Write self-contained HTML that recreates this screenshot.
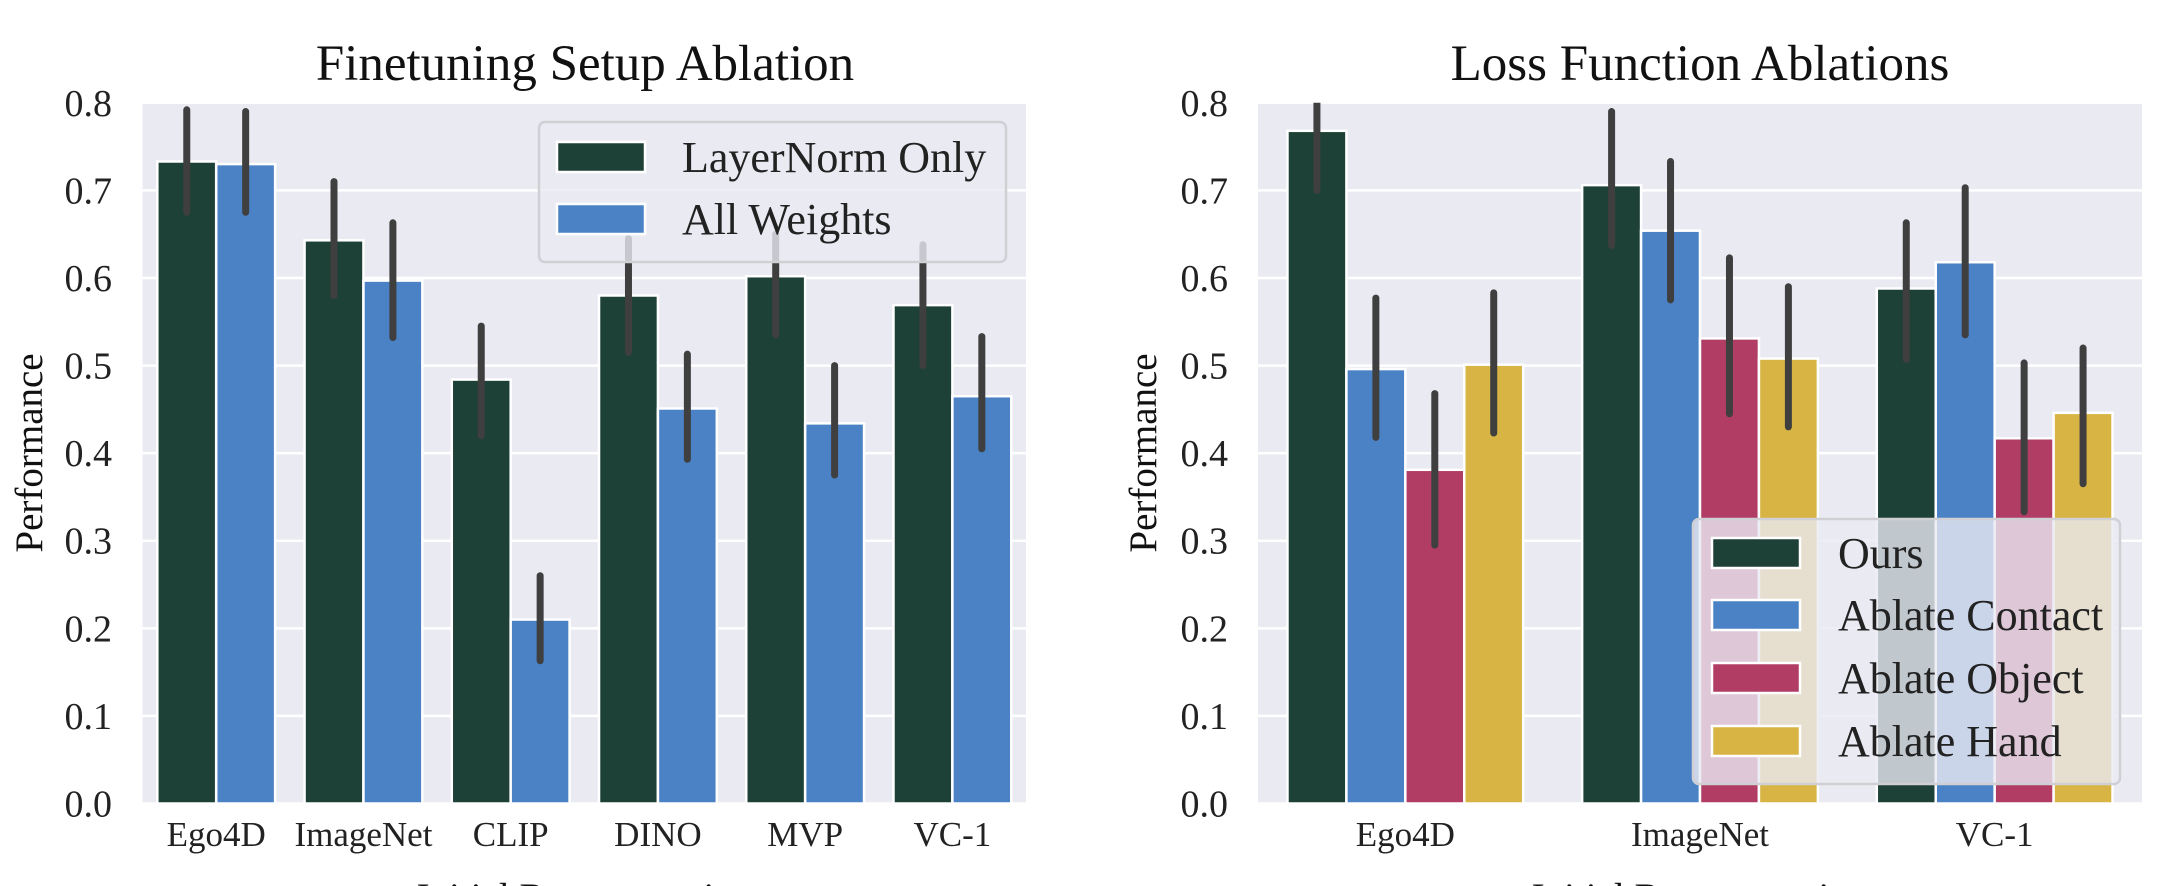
<!DOCTYPE html>
<html><head><meta charset="utf-8"><style>
html,body{margin:0;padding:0;background:#fff;}
svg{display:block;font-family:"Liberation Serif",serif;}
</style></head><body>
<svg id="chart" width="2160" height="886" viewBox="0 0 2160 886">
<text x="585" y="80" font-size="51" text-anchor="middle" fill="#111">Finetuning Setup Ablation</text>
<text x="1700" y="80" font-size="51" text-anchor="middle" fill="#111">Loss Function Ablations</text>
<text transform="translate(42,453) rotate(-90)" font-size="39" text-anchor="middle" fill="#111">Performance</text>
<text transform="translate(1156,453) rotate(-90)" font-size="39" text-anchor="middle" fill="#111">Performance</text>
<text x="585" y="910" font-size="39" text-anchor="middle" fill="#111">Initial Representation</text>
<text x="1700" y="910" font-size="39" text-anchor="middle" fill="#111">Initial Representation</text>
<g id="left"></g>
<g id="right"></g>
</svg>
<script>
const ticks=[0,0.1,0.2,0.3,0.4,0.5,0.6,0.7,0.8];
const tickLabels=["0.0","0.1","0.2","0.3","0.4","0.5","0.6","0.7","0.8"];
const leftCats=["Ego4D","ImageNet","CLIP","DINO","MVP","VC-1"];
const leftSeries=["LayerNorm Only","All Weights"];
const leftLN=[0.733,0.643,0.484,0.580,0.602,0.569];
const leftAW=[0.730,0.597,0.210,0.451,0.434,0.465];
const leftLNlo=[0.675,0.580,0.420,0.515,0.535,0.500];
const leftLNhi=[0.792,0.710,0.545,0.645,0.650,0.638];
const leftAWlo=[0.675,0.532,0.163,0.393,0.375,0.405];
const leftAWhi=[0.790,0.663,0.260,0.513,0.500,0.533];
const rightCats=["Ego4D","ImageNet","VC-1"];
const rightSeries=["Ours","Ablate Contact","Ablate Object","Ablate Hand"];
const rOurs=[0.768,0.706,0.588];
const rContact=[0.496,0.654,0.618];
const rObject=[0.381,0.531,0.417];
const rHand=[0.501,0.508,0.446];
const rOursLo=[0.700,0.637,0.507], rOursHi=[0.810,0.790,0.663];
const rContactLo=[0.418,0.575,0.535], rContactHi=[0.577,0.733,0.703];
const rObjectLo=[0.295,0.445,0.333], rObjectHi=[0.468,0.623,0.503];
const rHandLo=[0.423,0.430,0.365], rHandHi=[0.583,0.590,0.520];
const colors=["#1d4037","#4b82c5","#b13d64","#d8b444"];
const NS="http://www.w3.org/2000/svg";
function mk(p,tag,a){const e=document.createElementNS(NS,tag);for(const k in a)e.setAttribute(k,a[k]);p.appendChild(e);return e;}
const Y0=803.5,Y1=102.8;
function y(v){return Y0+(Y1-Y0)*v/0.8;}
function panel(g,x0,x1,tickX,cats,vals,los,his,series,legend,prefix){
  const bg=mk(g,'rect',{x:x0,y:Y1,width:x1-x0,height:Y0-Y1,fill:'#eaeaf2'});
  
  
  ticks.forEach((t,i)=>{
    const l=mk(g,'line',{x1:x0,x2:x1,y1:y(t),y2:y(t),stroke:'#fff','stroke-width':2.5});
    
    
    const tx=mk(g,'text',{x:tickX,y:y(t)+13,'font-size':38,'text-anchor':'end',fill:'#222'});
    tx.textContent=tickLabels[i];
    
    
  });
  const gw=(x1-x0)/cats.length, ns=vals.length, bw=gw*0.8/ns;
  const clip=mk(g,'clipPath',{id:prefix+'clip'});mk(clip,'rect',{x:x0,y:Y1,width:x1-x0,height:Y0-Y1});
  cats.forEach((c,i)=>{
    const start=x0+gw*i+gw*0.1;
    for(let s=0;s<ns;s++){
      const bx=start+bw*s, v=vals[s][i];
      const r=mk(g,'rect',{x:bx,y:y(v),width:bw,height:Y0-y(v),fill:colors[s],stroke:'#fff','stroke-width':2.5});
      
      
    }
    for(let s=0;s<ns;s++){
      const cx=start+bw*s+bw/2;
      const e=mk(g,'line',{x1:cx,x2:cx,y1:y(los[s][i]),y2:y(his[s][i]),stroke:'#3f3f3f','stroke-width':7,'stroke-linecap':'round','clip-path':'url(#'+prefix+'clip)'});
      
      
    }
    const lt=mk(g,'text',{x:x0+gw*i+gw/2,y:846,'font-size':35,'text-anchor':'middle',fill:'#222'});
    lt.textContent=c;
    
    
  });
  const L=legend;
  const box=mk(g,'rect',{x:L.x,y:L.y,width:L.w,height:L.h,rx:6,fill:'rgba(234,234,242,0.8)',stroke:'#cfcfd4','stroke-width':2.5});
  
  
  series.forEach((s,i)=>{
    const cy=L.rows[i];
    const p=mk(g,'rect',{x:L.px,y:cy-15,width:88,height:30,fill:colors[i],stroke:'#fff','stroke-width':2.5});
    
    
    const t=mk(g,'text',{x:L.tx,y:cy+15,'font-size':44,fill:'#222'});
    t.textContent=s;
    
    
  });
}
panel(document.getElementById('left'),142.6,1026,112,leftCats,[leftLN,leftAW],[leftLNlo,leftAWlo],[leftLNhi,leftAWhi],leftSeries,
 {x:539,y:122,w:467,h:140,px:557,tx:682,rows:[157,219]},'left');
panel(document.getElementById('right'),1258,2142,1228,rightCats,[rOurs,rContact,rObject,rHand],[rOursLo,rContactLo,rObjectLo,rHandLo],[rOursHi,rContactHi,rObjectHi,rHandHi],rightSeries,
 {x:1693,y:519,w:427,h:265,px:1712,tx:1838,rows:[553,615,678,741]},'right');
</script>
</body></html>
